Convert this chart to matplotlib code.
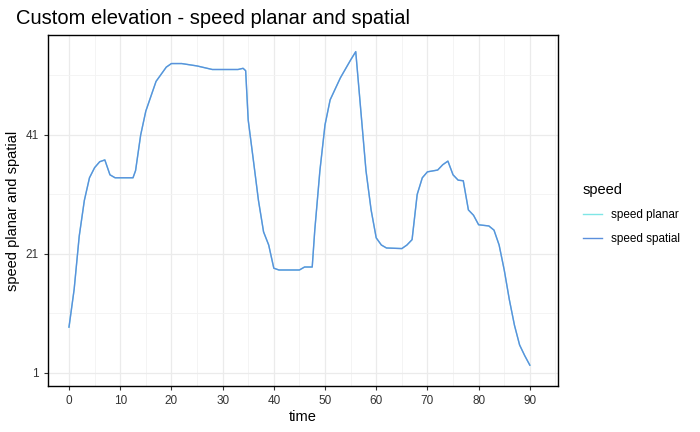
import matplotlib
matplotlib.use("Agg")
import matplotlib.pyplot as plt
from matplotlib.ticker import MultipleLocator, FixedLocator

plt.rcParams["font.family"] = ["Liberation Sans", "DejaVu Sans"]

# ====== DATA ======
time = [0, 1, 2, 3, 4, 5, 6, 7, 8, 9, 12.5, 13, 14, 15, 17, 19, 20, 22, 25, 28, 33, 34,
        34.5, 35, 36, 37, 38, 39, 40, 41, 45, 46, 47.5, 48, 49, 50, 51, 53, 55, 56, 57,
        58, 59, 60, 61, 62, 65, 66, 67, 68, 69, 70, 72, 73, 74, 75, 76, 77, 78, 79, 80,
        82, 83, 84, 85, 86, 87, 88, 89, 90]
speed_spatial = [8.7, 15, 24, 30, 33.8, 35.5, 36.5, 36.8, 34.3, 33.8, 33.8, 35, 41, 45, 50,
                 52.4, 53, 53, 52.6, 52, 52, 52.2, 51.8, 43.5, 36.8, 30, 24.7, 22.5, 18.6,
                 18.3, 18.3, 18.8, 18.8, 25, 35, 42.7, 46.9, 50.6, 53.6, 55, 45, 35, 28.4,
                 23.7, 22.5, 22, 21.9, 22.5, 23.4, 31, 33.8, 34.8, 35.1, 36, 36.6, 34.3,
                 33.4, 33.3, 28.4, 27.5, 25.9, 25.7, 25, 22.5, 18.3, 13.3, 9, 5.7, 3.9, 2.3]
speed_planar = list(speed_spatial)
x_ticks = [0, 10, 20, 30, 40, 50, 60, 70, 80, 90]
y_ticks = [1, 21, 41]

fig = plt.figure(figsize=(7, 4.32), dpi=100)
ax = fig.add_axes([48 / 700, 46 / 432, 510 / 700, 351 / 432])

ax.plot(time, speed_planar, color="#7fe6e6", lw=1, label="speed planar")
ax.plot(time, speed_spatial, color="#5b8fdc", lw=1, label="speed spatial")

ax.set_xlim(-4.1, 95.5)
ax.set_ylim(-1.2, 57.8)
ax.xaxis.set_major_locator(FixedLocator(x_ticks))
ax.xaxis.set_minor_locator(MultipleLocator(5))
ax.yaxis.set_major_locator(FixedLocator(y_ticks))
ax.yaxis.set_minor_locator(FixedLocator([11, 31, 51]))
ax.grid(which="major", color="#ebebeb", lw=0.9)
ax.grid(which="minor", color="#f3f3f3", lw=0.6)
ax.set_axisbelow(True)
for s in ax.spines.values():
    s.set_color("black")
    s.set_linewidth(1)
ax.tick_params(which="major", length=3, color="#333333", labelsize=8.5, labelcolor="#333333")
ax.tick_params(which="minor", length=0)

ax.set_xlabel("time", fontsize=10.5, labelpad=2)
ax.set_ylabel("speed planar and spatial", fontsize=10.5, labelpad=4)
fig.text(16 / 700, 1 - 18 / 432, "Custom elevation - speed planar and spatial",
         fontsize=14.5, va="center", ha="left")

leg = fig.legend(loc="center left", bbox_to_anchor=(572 / 700, 0.505), frameon=False,
                 title="speed", fontsize=8.5, title_fontsize=10.5, handlelength=1.6,
                 labelspacing=1.0)
leg._legend_box.align = "left"

fig.savefig("out.png", dpi=100)
